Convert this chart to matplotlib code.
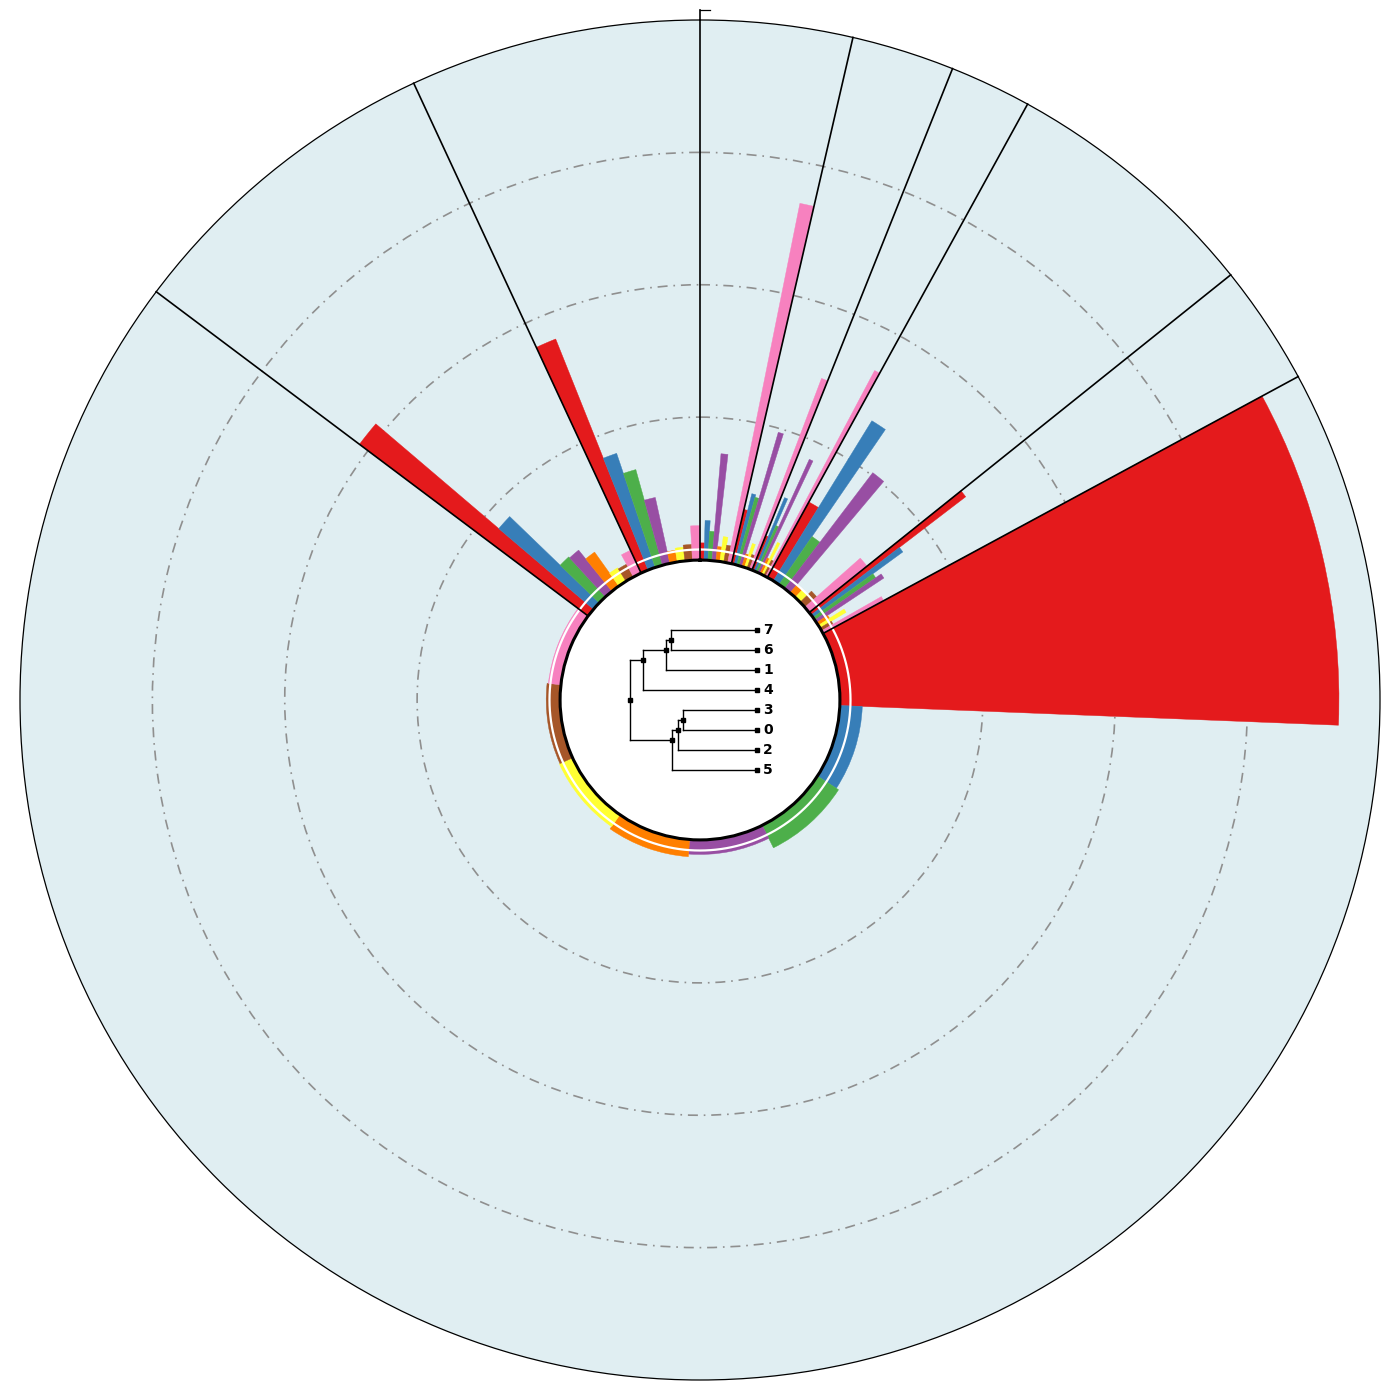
import numpy as np
import matplotlib.pyplot as plt
from matplotlib.lines import Line2D

# cluster colours (Set1 order: 0..7)
palette = ['#e41a1c', '#377eb8', '#4daf4a', '#984ea3',
           '#ff7f00', '#ffff33', '#a65628', '#f781bf']

# angular size of each sector (degrees), clockwise from north
sector_deg = [13.0, 8.8, 7.0, 22.5, 10.3, 245.3, 28.2, 24.9]

# bar heights per sector, one value per colour (radial units, grid at 1, 2, 3)
sec_a = [0.05, 0.22, 0.14, 0.73, 0.03, 0.11, 0.05, 2.69]
sec_b = [0.34, 0.47, 0.45, 0.97, 0.02, 0.11, 0.03, 1.46]
sec_c = [0.20, 0.52, 0.30, 0.86, 0.05, 0.19, 0.05, 1.68]
sec_d = [0.57, 1.34, 0.36, 1.02, 0.00, 0.00, 0.04, 0.48]
sec_e = [1.39, 0.76, 0.48, 0.53, 0.02, 0.15, 0.02, 0.44]
sec_f = [3.69, 0.09, 0.11, 0.03, 0.05, 0.03, 0.025, 0.015]
sec_g = [2.08, 0.86, 0.33, 0.32, 0.235, 0.04, 0.03, 0.11]
sec_h = [1.80, 0.83, 0.67, 0.43, 0.01, 0.025, 0.04, 0.18]
sectors = [sec_a, sec_b, sec_c, sec_d, sec_e, sec_f, sec_g, sec_h]

# dendrogram: leaf order top->bottom and merges (child, child, height)
leaf_order = [7, 6, 1, 4, 3, 0, 2, 5]
merges = [((3,), (0,), 0.579),
          ((3, 0), (2,), 0.621),
          ((3, 0, 2), (5,), 0.666),
          ((7,), (6,), 0.676),
          ((7, 6), (1,), 0.718),
          ((7, 6, 1), (4,), 0.895),
          ((7, 6, 1, 4), (3, 0, 2, 5), 1.0)]

r_min, r_max = -0.08, 4.0

fig = plt.figure(figsize=(14, 14), dpi=100)
ax = fig.add_axes([20/1400, 20/1400, 1360/1400, 1360/1400], projection='polar')
ax.set_theta_zero_location('N')
ax.set_theta_direction(-1)
ax.set_facecolor('#e0eef2')
ax.set_axisbelow(True)

start = 0.0
edges = []
for w, vals in zip(sector_deg, sectors):
    bw = w / 8
    th = np.deg2rad(start + (np.arange(8) + 0.5) * bw)
    h = np.array(vals) - r_min
    ax.bar(th, h, width=np.deg2rad(bw), bottom=r_min, color=palette,
           edgecolor=palette, linewidth=0.3, zorder=2)
    edges.append(start)
    start += w

# sector separators
for e in edges:
    top = 4.075 if e == 0 else r_max
    ax.plot([np.deg2rad(e)] * 2, [r_min, top], color='black', lw=1.2,
            zorder=4, clip_on=False)

# zero line
circ = np.linspace(0, 2 * np.pi, 721)
ax.plot(circ, np.zeros_like(circ), color='white', lw=1.6, zorder=3)

ax.set_ylim(r_min, r_max)
ax.set_rorigin(-1.137)
ax.set_xticks([])
ax.set_yticks([1, 2, 3])
ax.set_yticklabels([])
ax.yaxis.grid(True, color='#8f8f8f', linestyle=(0, (6, 3.5, 1, 3.5)), lw=1.2)
ax.spines['polar'].set_linewidth(0.9)
ax.spines['inner'].set_linewidth(2.2)

fig.add_artist(Line2D([700/1400, 710/1400], [1 - 10/1400] * 2,
                      transform=fig.transFigure, color='black', lw=0.9))

# dendrogram in the centre
axd = fig.add_axes([620/1400, 620/1400, 160/1400, 160/1400])
axd.set_xlim(1.079, -0.184)
axd.set_ylim(7.5, -0.5)
axd.axis('off')

pos = {(leaf,): (0.0, i) for i, leaf in enumerate(leaf_order)}
for a, b, hgt in merges:
    xa, ya = pos[a]
    xb, yb = pos[b]
    axd.plot([xa, hgt], [ya, ya], color='black', lw=1.0)
    axd.plot([xb, hgt], [yb, yb], color='black', lw=1.0)
    axd.plot([hgt, hgt], [ya, yb], color='black', lw=1.0)
    members = a + b
    ym = np.mean([leaf_order.index(m) for m in members])
    pos[members] = (hgt, ym)
    axd.plot(hgt, ym, 's', color='black', ms=3.2)

for i, leaf in enumerate(leaf_order):
    axd.plot(0, i, 's', color='black', ms=3)
    axd.text(-0.05, i, str(leaf), va='center', ha='left', fontsize=10,
             fontweight='bold')

fig.savefig('out.png', dpi=100, facecolor='white')
